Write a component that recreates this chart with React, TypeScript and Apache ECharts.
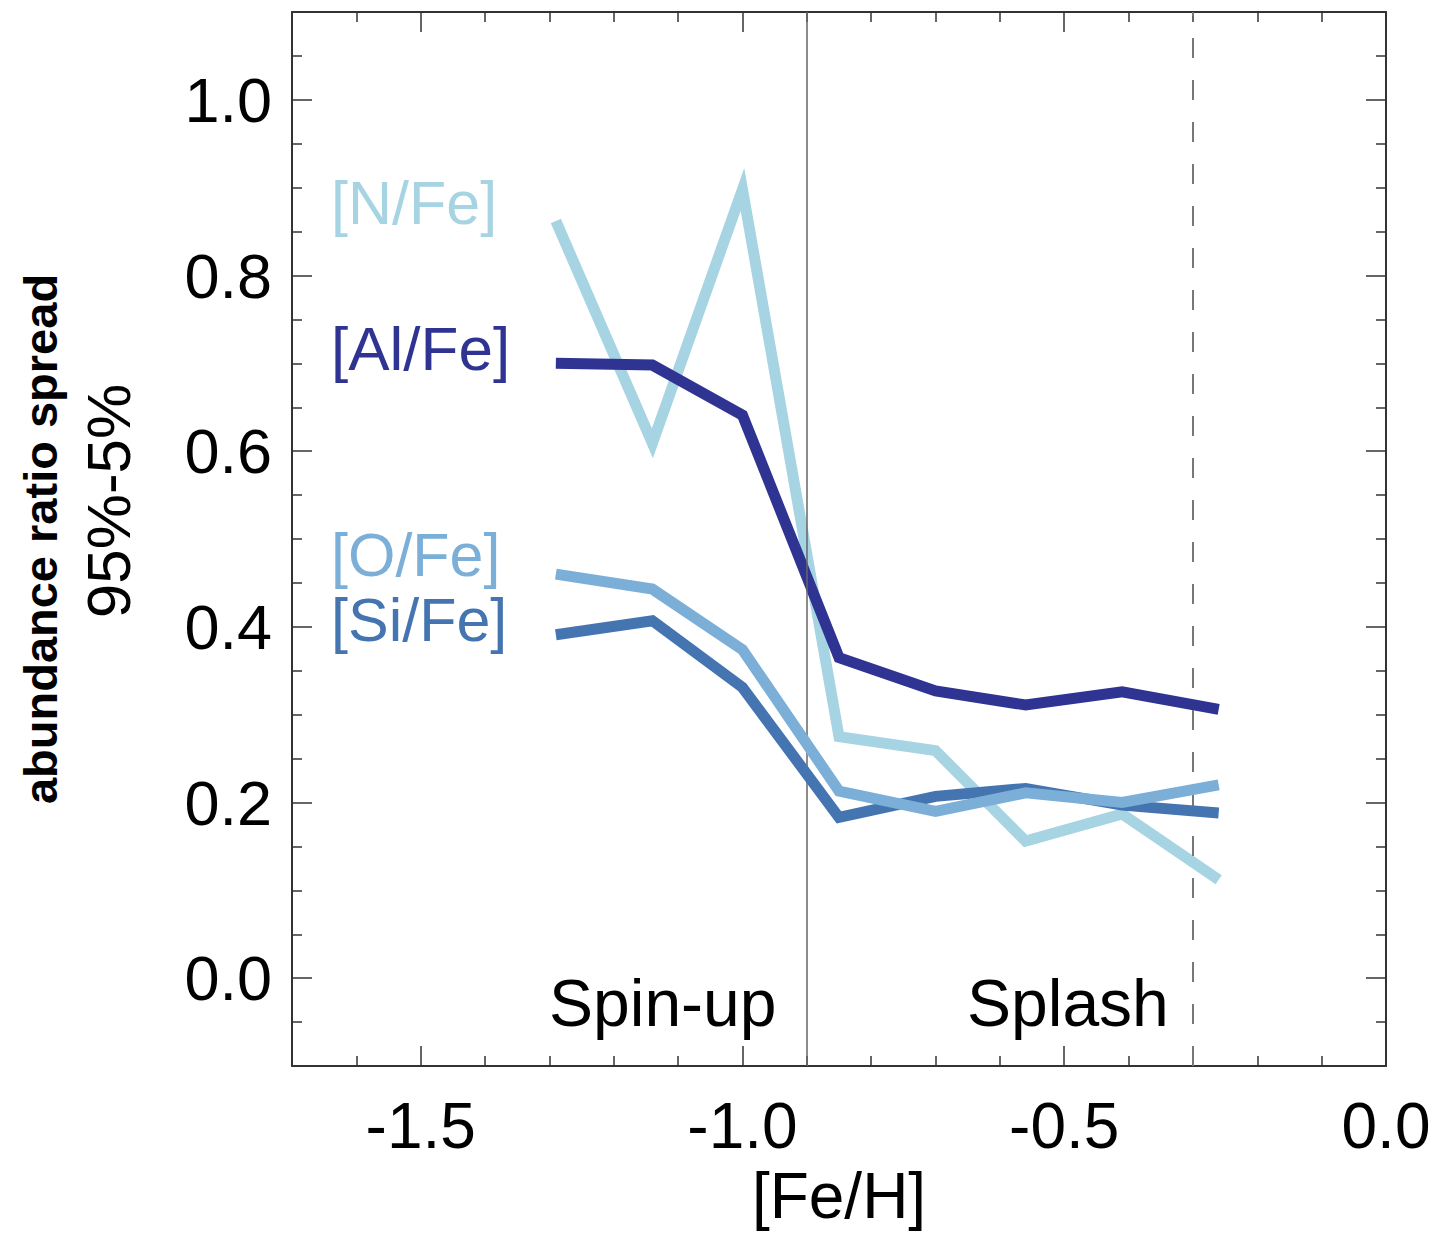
import React, { useEffect, useRef } from "react";
import * as echarts from "echarts";

// [Fe/H] bin centres
const feH = [-1.29, -1.14, -1.0, -0.85, -0.70, -0.56, -0.41, -0.26];
// 95%-5% spread for each abundance ratio
const nFe = [0.862, 0.609, 0.898, 0.275, 0.259, 0.156, 0.187, 0.112];
const alFe = [0.700, 0.698, 0.641, 0.365, 0.327, 0.311, 0.326, 0.306];
const oFe = [0.460, 0.443, 0.374, 0.213, 0.190, 0.211, 0.200, 0.220];
const siFe = [0.391, 0.407, 0.331, 0.183, 0.207, 0.216, 0.197, 0.188];

const seriesNames = ["[N/Fe]", "[Al/Fe]", "[Si/Fe]", "[O/Fe]"];
const seriesColors = ["#a7d4e3", "#2f3392", "#4475b1", "#7cafd8"];

const xMajorTicks = [-1.5, -1.0, -0.5, 0.0];
const xMinorTicks = [-1.6, -1.4, -1.3, -1.2, -1.1, -0.9, -0.8, -0.7, -0.6, -0.4, -0.3, -0.2, -0.1];
const yMajorTicks = [0.0, 0.2, 0.4, 0.6, 0.8, 1.0];
const yMinorTicks = [-0.05, 0.05, 0.1, 0.15, 0.25, 0.3, 0.35, 0.45, 0.5, 0.55, 0.65, 0.7, 0.75, 0.85, 0.9, 0.95, 1.05];

const xRange = [-1.7, 0.0];
const yRange = [-0.1, 1.1];

const spinUpBoundary = -0.9;
const splashBoundary = -0.3;

const FONT = "'Liberation Sans', Arial, Helvetica, sans-serif";

export default function App() {
  const ref = useRef<HTMLDivElement>(null);

  useEffect(() => {
    if (!ref.current) return;
    const chart = echarts.init(ref.current, null, { renderer: "svg" });

    const xAxis = (position: string, ticks: number[], len: number, showLine: boolean, labels: boolean) => ({
      type: "value",
      position,
      min: xRange[0],
      max: xRange[1],
      axisLine: { show: showLine, onZero: false, lineStyle: { color: "#333", width: 2 } },
      axisTick: { show: true, inside: true, length: len, customValues: ticks, lineStyle: { color: "#333", width: 1.5 } },
      axisLabel: labels
        ? { show: true, customValues: ticks, margin: 28, fontSize: 64, fontFamily: FONT, color: "#000", formatter: (v: number) => v.toFixed(1) }
        : { show: false },
      splitLine: { show: false },
    });
    const yAxis = (position: string, ticks: number[], len: number, showLine: boolean, labels: boolean) => ({
      type: "value",
      position,
      min: yRange[0],
      max: yRange[1],
      axisLine: { show: showLine, onZero: false, lineStyle: { color: "#333", width: 2 } },
      axisTick: { show: true, inside: true, length: len, customValues: ticks, lineStyle: { color: "#333", width: 1.5 } },
      axisLabel: labels
        ? { show: true, customValues: ticks, margin: 20, fontSize: 63, fontFamily: FONT, color: "#000", formatter: (v: number) => v.toFixed(1) }
        : { show: false },
      splitLine: { show: false },
    });

    const values = [nFe, alFe, siFe, oFe];
    const series: any[] = values.map((vals, i) => ({
      name: seriesNames[i],
      type: "line",
      xAxisIndex: 0,
      yAxisIndex: 0,
      data: feH.map((x, j) => [x, vals[j]]),
      showSymbol: false,
      symbol: "none",
      lineStyle: { color: seriesColors[i], width: 11, join: "miter", cap: "butt" },
      itemStyle: { color: seriesColors[i] },
      z: 3 + i,
    }));
    series.push({
      type: "line",
      xAxisIndex: 0,
      yAxisIndex: 0,
      data: [],
      markLine: {
        silent: true,
        symbol: ["none", "none"],
        label: { show: false },
        data: [
          { xAxis: spinUpBoundary, lineStyle: { color: "#666", width: 1.5, type: "solid" } },
          { xAxis: splashBoundary, lineStyle: { color: "#777", width: 2, type: [20, 22] } },
        ],
      },
      z: 2,
    });

    const labelStyle = (text: string, color: string, size: number) => ({
      text,
      fill: color,
      fontSize: size,
      lineHeight: 56,
      fontFamily: FONT,
      textAlign: "left",
      align: "left",
      textVerticalAlign: "middle",
      verticalAlign: "middle",
    });

    chart.setOption({
      animation: false,
      backgroundColor: "#ffffff",
      grid: { left: 292, top: 12, width: 1094, height: 1054, containLabel: false },
      xAxis: [
        xAxis("bottom", xMajorTicks, 20, true, true),
        xAxis("bottom", xMinorTicks, 10, false, false),
        xAxis("top", xMajorTicks, 20, true, false),
        xAxis("top", xMinorTicks, 10, false, false),
      ],
      yAxis: [
        yAxis("left", yMajorTicks, 20, true, true),
        yAxis("left", yMinorTicks, 10, false, false),
        yAxis("right", yMajorTicks, 20, true, false),
        yAxis("right", yMinorTicks, 10, false, false),
      ],
      series,
      graphic: [
        { type: "text", x: 331, y: 203, style: labelStyle("[N/Fe]", seriesColors[0], 61) },
        { type: "text", x: 331, y: 348, style: labelStyle("[Al/Fe]", seriesColors[1], 62) },
        { type: "text", x: 331, y: 555, style: labelStyle("[O/Fe]", seriesColors[3], 61) },
        { type: "text", x: 331, y: 620, style: labelStyle("[Si/Fe]", seriesColors[2], 61) },
        { type: "text", x: 549, y: 1003, style: labelStyle("Spin-up", "#000", 66) },
        { type: "text", x: 967, y: 1003, style: labelStyle("Splash", "#000", 66) },
        {
          type: "text",
          x: 839,
          y: 1196,
          style: { text: "[Fe/H]", fill: "#000", fontSize: 64, lineHeight: 60, fontFamily: FONT, textAlign: "center", align: "center", textVerticalAlign: "middle", verticalAlign: "middle" },
        },
        {
          type: "text",
          x: 40,
          y: 539,
          rotation: Math.PI / 2,
          style: { text: "abundance ratio spread", fill: "#000", fontSize: 47, fontWeight: "bold", fontFamily: FONT, textAlign: "center", align: "center", textVerticalAlign: "middle", verticalAlign: "middle" },
        },
        {
          type: "text",
          x: 108,
          y: 501,
          rotation: Math.PI / 2,
          style: { text: "95%-5%", fill: "#000", fontSize: 62, fontFamily: FONT, textAlign: "center", align: "center", textVerticalAlign: "middle", verticalAlign: "middle" },
        },
      ],
    });

    return () => chart.dispose();
  }, []);

  return (
    <div
      ref={ref}
      style={{ position: "fixed", left: 0, top: 0, width: 1438, height: 1234, background: "#fff" }}
    />
  );
}
